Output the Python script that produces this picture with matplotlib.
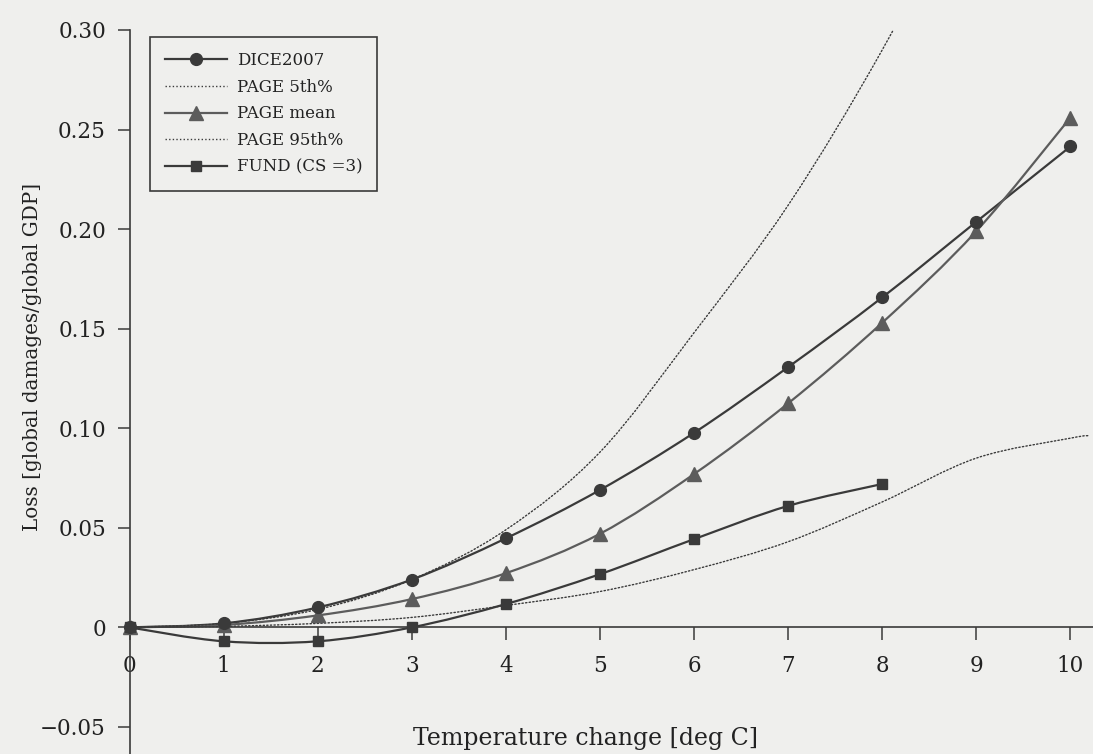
"""
Loss vs temperature change for DICE2007, PAGE (5th/mean/95th) and FUND damage functions.
"""
import numpy as np
import matplotlib
matplotlib.use('Agg')
import matplotlib.pyplot as plt
from matplotlib.path import Path
from matplotlib.patches import PathPatch
from matplotlib.lines import Line2D

# Data
temps = [0, 1, 2, 3, 4, 5, 6, 7, 8, 9, 10]
dice2007 = [0, 0.002, 0.010, 0.024, 0.0447, 0.069, 0.0977, 0.1307, 0.1657, 0.2037, 0.2415]
page_mean = [0, 0.0012, 0.006, 0.0142, 0.0272, 0.047, 0.077, 0.1125, 0.153, 0.199, 0.256]

fund_temps = [0, 1, 2, 3, 4, 5, 6, 7, 8]
fund_cs3 = [0, -0.007, -0.007, 0.0, 0.0117, 0.0267, 0.0443, 0.061, 0.072]

page5_temps = [0, 1, 2, 3, 4, 5, 6, 7, 8, 9, 10, 10.2]
page_5th = [0, 0.0005, 0.002, 0.005, 0.011, 0.018, 0.029, 0.043, 0.063, 0.085, 0.095, 0.0963]

page95_temps = [0, 1, 2, 3, 4, 5, 6, 7, 8, 9]
page_95th = [0, 0.002, 0.009, 0.024, 0.049, 0.088, 0.148, 0.212, 0.29, 0.38]

y_ticks = [-0.05, 0, 0.05, 0.10, 0.15, 0.20, 0.25, 0.30]
y_ticklabels = ['\u22120.05', '0', '0.05', '0.10', '0.15', '0.20', '0.25', '0.30']

BG = '#efefed'
DARK = '#3a3a3a'
MID = '#5c5c5c'
TXT = '#222222'


def smooth_path(xs, ys):
    """Catmull-Rom style bezier path through the given points."""
    pts = np.column_stack([xs, ys]).astype(float)
    n = len(pts)
    verts = [pts[0]]
    codes = [Path.MOVETO]
    for i in range(n - 1):
        p0 = pts[max(i - 1, 0)]
        p1 = pts[i]
        p2 = pts[i + 1]
        p3 = pts[min(i + 2, n - 1)]
        verts += [p1 + (p2 - p0) / 6, p2 - (p3 - p1) / 6, p2]
        codes += [Path.CURVE4] * 3
    return Path(verts, codes)


def add_curve(ax, xs, ys, color, lw, ls='-'):
    patch = PathPatch(smooth_path(xs, ys), facecolor='none', edgecolor=color,
                      lw=lw, linestyle=ls, capstyle='round', zorder=2)
    ax.add_patch(patch)


plt.rcParams['font.family'] = ['DejaVu Serif']

fig = plt.figure(figsize=(10.93, 7.54), dpi=100, facecolor=BG)
ax = fig.add_axes([129.5 / 1093, 0.0, 1 - 129.5 / 1093, 1 - 30 / 754])
ax.set_facecolor(BG)

dots = (0, (1, 1.6))

# smooth lines
add_curve(ax, temps, dice2007, DARK, 1.6)
add_curve(ax, page5_temps, page_5th, DARK, 1.0, dots)
add_curve(ax, temps, page_mean, MID, 1.6)
add_curve(ax, page95_temps, page_95th, DARK, 1.0, dots)
add_curve(ax, fund_temps, fund_cs3, DARK, 1.6)

# markers
ax.plot(temps, dice2007, 'o', color=DARK, ms=8.5, zorder=4, clip_on=False)
ax.plot(temps, page_mean, '^', color=MID, ms=9.5, zorder=3, clip_on=False)
ax.plot(fund_temps, fund_cs3, 's', color=DARK, ms=7, zorder=5, clip_on=False)

ax.set_xlim(0, 10.24)
ax.set_ylim(-0.0636, 0.30)

for side in ['top', 'right']:
    ax.spines[side].set_visible(False)
ax.spines['bottom'].set_position(('data', 0))
for side in ['left', 'bottom']:
    ax.spines[side].set_color(DARK)
    ax.spines[side].set_linewidth(1.2)

ax.set_xticks(range(0, 11))
ax.set_yticks(y_ticks)
ax.set_yticklabels(y_ticklabels)
ax.tick_params(axis='x', direction='out', length=9, width=1.1, color=DARK,
               labelsize=15.5, pad=11, labelcolor=TXT)
ax.tick_params(axis='y', direction='out', length=9, width=1.1, color=DARK,
               labelsize=15.5, pad=8, labelcolor=TXT)

ax.set_xlabel('Temperature change [deg C]', fontsize=17, color=TXT, va='center')
ax.xaxis.set_label_coords(0.473, 0.022)
ax.set_ylabel('Loss [global damages/global GDP]', fontsize=14.3, color=TXT)
ax.yaxis.set_label_coords(-0.091, 0.548)

handles = [
    Line2D([], [], color=DARK, lw=1.6, marker='o', ms=8.5),
    Line2D([], [], color=DARK, lw=1.0, linestyle=dots),
    Line2D([], [], color=MID, lw=1.6, marker='^', ms=9.5),
    Line2D([], [], color=DARK, lw=1.0, linestyle=dots),
    Line2D([], [], color=DARK, lw=1.6, marker='s', ms=7),
]
labels = ['DICE2007', 'PAGE 5th%', 'PAGE mean', 'PAGE 95th%', 'FUND (CS =3)']
leg = fig.legend(handles, labels, loc='upper left',
                 bbox_to_anchor=(150 / 1093, 1 - 37 / 754), borderaxespad=0,
                 fontsize=12, handlelength=3.7, handletextpad=0.6,
                 labelspacing=0.58, borderpad=0.9, fancybox=False,
                 facecolor=BG, edgecolor=DARK, framealpha=1)
leg.get_frame().set_linewidth(1.2)
for t in leg.get_texts():
    t.set_color(TXT)

fig.savefig('out.png', dpi=100, facecolor=BG)
